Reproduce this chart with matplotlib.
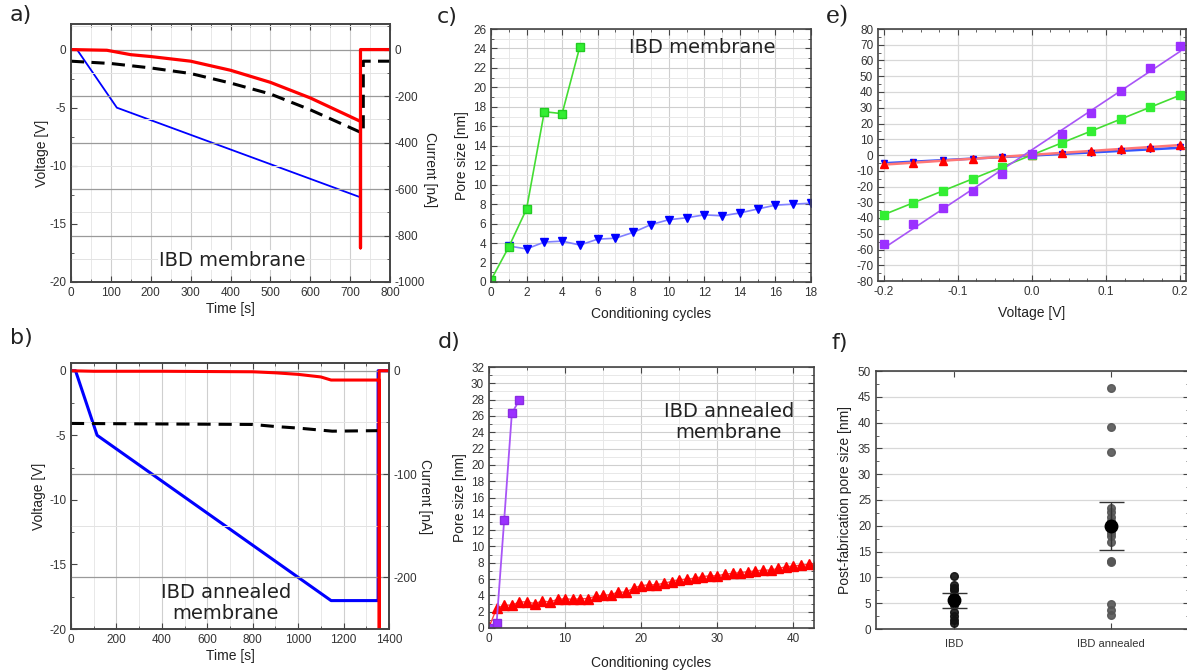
import numpy as np
import matplotlib
matplotlib.use("Agg")
import matplotlib.pyplot as plt
from matplotlib.ticker import MultipleLocator

plt.rcParams["font.family"] = ["Liberation Sans", "DejaVu Sans"]
plt.rcParams["axes.unicode_minus"] = False
plt.rcParams["axes.edgecolor"] = "#444444"
plt.rcParams["xtick.color"] = "#444444"
plt.rcParams["ytick.color"] = "#444444"
plt.rcParams["xtick.labelcolor"] = "#333333"
plt.rcParams["ytick.labelcolor"] = "#333333"

# ---- panel a: IBD membrane, time trace ----
a_t_volt = [0, 15, 115, 725]
a_volt = [0, 0, -5, -12.7]
a_t_curr = [0, 90, 150, 200, 300, 400, 500, 600, 726, 726, 726, 800]
a_curr = [0, -3, -22, -30, -50, -89, -141, -208, -309, -853, 0, 0]
a_t_dash = [0, 100, 200, 300, 400, 500, 600, 725, 733, 733, 800]
a_dash = [-50, -60, -79, -103, -144, -191, -259, -355, -355, -50, -50]

# ---- panel b: IBD annealed membrane, time trace ----
b_t_volt = [0, 20, 115, 1145, 1352, 1352, 1400]
b_volt = [0, 0, -5, -17.8, -17.8, 0, 0]
b_t_curr = [0, 100, 400, 800, 900, 1000, 1100, 1145, 1357, 1357, 1357, 1400]
b_curr = [0, -0.5, -0.5, -1, -2, -3.5, -6, -9, -9, -300, 0, 0]
b_t_dash = [0, 800, 900, 1000, 1150, 1350]
b_dash = [-51, -52, -54, -55.5, -58.5, -58]

# ---- panel c: pore size vs cycles (IBD) ----
c_green_x = [0, 1, 2, 3, 4, 5]
c_green_y = [0.2, 3.6, 7.5, 17.5, 17.3, 24.2]
c_blue_x = list(range(1, 19))
c_blue_y = [3.7, 3.4, 4.1, 4.2, 3.8, 4.4, 4.5, 5.1, 5.9, 6.4, 6.6, 6.9, 6.8,
            7.1, 7.5, 7.9, 8.0, 8.1]

# ---- panel d: pore size vs cycles (IBD annealed) ----
d_purple_x = [0, 1, 2, 3, 4]
d_purple_y = [0, 0.6, 13.3, 26.3, 28.0]
d_red_x = list(range(0, 44))
d_red_y = [0.1, 2.4, 2.8, 2.8, 3.2, 3.2, 3.0, 3.3, 3.2, 3.5, 3.6, 3.5, 3.6,
           3.6, 3.9, 4.0, 4.1, 4.4, 4.4, 4.9, 5.2, 5.3, 5.3, 5.5, 5.7, 5.9,
           6.0, 6.1, 6.3, 6.4, 6.4, 6.6, 6.7, 6.8, 6.9, 7.0, 7.1, 7.1, 7.3,
           7.5, 7.6, 7.7, 7.8, 7.9]

# ---- panel e: I-V curves ----
e_volt = [-0.2, -0.16, -0.12, -0.08, -0.04, 0, 0.04, 0.08, 0.12, 0.16, 0.2]
e_purple = [-56.8, -44, -33.4, -23, -12.1, 0.5, 13.2, 26.4, 40.9, 55.1, 69.4]
e_green = [-38.1, -30.2, -22.8, -15.1, -7.4, 0, 7.7, 15.1, 22.8, 30.4, 37.9]
e_blue = [-5.1, -4.2, -3.3, -2.3, -1.2, -0.6, 0.6, 1.5, 2.6, 3.6, 4.8]
e_red = [-5.9, -4.9, -3.7, -2.5, -1.3, 0, 1.5, 2.7, 3.9, 5.1, 6.2]

# ---- panel f: post-fabrication pore size ----
f_labels = ["IBD", "IBD annealed"]
f_ibd = [10.2, 8.6, 8.0, 7.5, 6.5, 6.0, 5.4, 5.0, 4.6, 3.3, 2.5, 1.8, 1.2]
f_ann = [46.7, 39.2, 34.3, 23.5, 22.7, 21.8, 20.9, 18.7, 18.0, 16.9, 13.1,
         13.0, 4.8, 3.7, 2.7]
f_mean = [5.6, 20.0]
f_err_low = [1.5, 4.6]
f_err_high = [1.4, 4.6]

W, H = 1187, 671
fig = plt.figure(figsize=(W / 100, H / 100), dpi=100)


def box(l, t, r, b):
    return [l / W, 1 - b / H, (r - l) / W, (b - t) / H]


def style(ax, right=True):
    ax.tick_params(which="both", direction="in", top=True, right=right,
                   labelsize=8.5)
    ax.tick_params(which="major", length=4)
    ax.tick_params(which="minor", length=2)
    for s in ax.spines.values():
        s.set_linewidth(1.2)


def grid(ax, axis="both", major="#cfcfcf", minor="#e8e8e8"):
    ax.set_axisbelow(True)
    ax.grid(True, which="major", axis=axis, color=major, lw=0.8)
    ax.grid(True, which="minor", axis=axis, color=minor, lw=0.7)


lab = dict(fontsize=10, color="#222222")
ann = dict(fontsize=14, color="#222222", family="DejaVu Sans")

# ================= a =================
ax = fig.add_axes(box(71, 24, 390, 282))
ax2 = ax.twinx()
ax.plot(a_t_volt, a_volt, color="#0000ff", lw=1.3, zorder=3)
ax2.plot(a_t_dash, a_dash, color="black", lw=2.2, dashes=(4.3, 2.4))
ax2.plot(a_t_curr, a_curr, color="#ff0000", lw=2.3)
ax.set_xlim(0, 800)
ax.set_ylim(-20, 2.2)
ax2.set_ylim(-1000, 110)
ax.xaxis.set_major_locator(MultipleLocator(100))
ax.xaxis.set_minor_locator(MultipleLocator(50))
ax.yaxis.set_major_locator(MultipleLocator(5))
ax.yaxis.set_minor_locator(MultipleLocator(2.5))
ax2.yaxis.set_major_locator(MultipleLocator(200))
ax2.yaxis.set_minor_locator(MultipleLocator(100))
style(ax, right=False)
style(ax2)
ax2.tick_params(which="both", left=False)
grid(ax, axis="x")
ax2.set_axisbelow(True)
ax2.grid(True, which="major", axis="y", color="#9a9a9a", lw=0.9)
ax2.grid(True, which="minor", axis="y", color="#e3e3e3", lw=0.7)
ax.set_xlabel("Time [s]", labelpad=2, **lab)
ax.set_ylabel("Voltage [V]", labelpad=0, **lab)
ax2.text(0.505, 0.085, "IBD membrane", transform=ax2.transAxes,
         ha="center", va="center", zorder=5,
         bbox=dict(fc="white", ec="none", pad=0.5), **ann)
fig.text(430 / W, 1 - 170 / H, "Current [nA]", rotation=270, ha="center",
         va="center", **lab)

# ================= b =================
ax = fig.add_axes(box(71, 363, 389, 629))
ax2 = ax.twinx()
ax.plot(b_t_volt, b_volt, color="#0000ff", lw=2.2, zorder=3)
ax2.plot(b_t_dash, b_dash, color="black", lw=2.2, dashes=(4.3, 2.6))
ax2.plot(b_t_curr, b_curr, color="#ff0000", lw=2.2)
ax.set_xlim(0, 1400)
ax.set_ylim(-20, 0.6)
ax2.set_ylim(-250, 7.5)
ax.xaxis.set_major_locator(MultipleLocator(200))
ax.xaxis.set_minor_locator(MultipleLocator(100))
ax.yaxis.set_major_locator(MultipleLocator(5))
ax.yaxis.set_minor_locator(MultipleLocator(2.5))
ax2.yaxis.set_major_locator(MultipleLocator(100))
ax2.yaxis.set_minor_locator(MultipleLocator(50))
style(ax, right=False)
style(ax2)
ax2.tick_params(which="both", left=False)
grid(ax, axis="x")
ax2.set_axisbelow(True)
ax2.grid(True, which="major", axis="y", color="#9a9a9a", lw=0.9)
ax2.grid(True, which="minor", axis="y", color="#e3e3e3", lw=0.7)
ax.set_xlabel("Time [s]", labelpad=2, **lab)
ax.set_ylabel("Voltage [V]", labelpad=2, **lab)
ax2.text(0.487, 0.098, "IBD annealed\nmembrane", transform=ax2.transAxes,
         ha="center", va="center", linespacing=1.1, zorder=5, **ann)
fig.text(425 / W, 1 - 497 / H, "Current [nA]", rotation=270, ha="center",
         va="center", **lab)

# ================= c =================
ax = fig.add_axes(box(491, 29, 811, 282))
ax.plot(c_blue_x, c_blue_y, color="#8080ff", lw=1.2, marker="v", ms=6,
        mfc="#0000ff", mec="#0000ff")
ax.plot(c_green_x, c_green_y, color="#44dd33", lw=1.2, marker="s", ms=5.5,
        mfc="#33ee33", mec="#22cc22")
ax.set_xlim(0, 18)
ax.set_ylim(0, 26)
ax.xaxis.set_major_locator(MultipleLocator(2))
ax.xaxis.set_minor_locator(MultipleLocator(1))
ax.yaxis.set_major_locator(MultipleLocator(2))
ax.yaxis.set_minor_locator(MultipleLocator(1))
style(ax)
grid(ax)
ax.set_xlabel("Conditioning cycles", labelpad=6, **lab)
ax.set_ylabel("Pore size [nm]", labelpad=3, **lab)
ax.text(11.9, 24.1, "IBD membrane", ha="center", va="center", **ann)

# ================= d =================
ax = fig.add_axes(box(489, 367, 814, 628))
ax.plot(d_red_x, d_red_y, color="#ff4444", lw=1.0, marker="^", ms=7,
        mfc="#ff0000", mec="#ff0000")
ax.plot(d_purple_x, d_purple_y, color="#a855f7", lw=1.3, marker="s", ms=5.5,
        mfc="#9b30ff", mec="#8a2be2")
ax.set_xlim(0, 42.7)
ax.set_ylim(0, 32)
ax.xaxis.set_major_locator(MultipleLocator(10))
ax.xaxis.set_minor_locator(MultipleLocator(5))
ax.yaxis.set_major_locator(MultipleLocator(2))
ax.yaxis.set_minor_locator(MultipleLocator(1))
style(ax)
grid(ax)
ax.set_xlabel("Conditioning cycles", labelpad=8, **lab)
ax.set_ylabel("Pore size [nm]", labelpad=3, **lab)
ax.text(0.738, 0.79, "IBD annealed\nmembrane", transform=ax.transAxes,
        ha="center", va="center", linespacing=1.1, **ann)

# ================= e =================
ax = fig.add_axes(box(878, 29, 1186, 281))
xv = np.array(e_volt)
series = [
    (e_blue, "#0000ff", "#3355ff", "v", 5),
    (e_red, "#ff0000", "#ff7777", "^", 6),
    (e_green, "#33ee33", "#44dd33", "s", 5.5),
    (e_purple, "#9b30ff", "#a855f7", "s", 6),
]
for ys, mc, lc, mk, ms in series:
    k, b0 = np.polyfit(xv, ys, 1)
    ax.plot(xv, k * xv + b0, color=lc, lw=1.8 if mk in "v^" else 1.2,
            zorder=2)
    ax.plot(xv, ys, ls="none", marker=mk, ms=ms, mfc=mc, mec=mc, zorder=3)
ax.set_xlim(-0.2077, 0.208)
ax.set_ylim(-80, 80)
ax.xaxis.set_major_locator(MultipleLocator(0.1))
ax.xaxis.set_minor_locator(MultipleLocator(0.025))
ax.yaxis.set_major_locator(MultipleLocator(10))
ax.yaxis.set_minor_locator(MultipleLocator(5))
style(ax)
ax.set_axisbelow(True)
ax.grid(True, which="major", color="#d8d8d8", lw=0.9)
ax.set_xlabel("Voltage [V]", labelpad=6, **lab)

# ================= f =================
ax = fig.add_axes(box(876, 371, 1189, 629))
ax.plot(np.full(len(f_ibd), 1), f_ibd, ls="none", marker="o", ms=5.5,
        color="#111111", alpha=0.9)
ax.plot(np.full(len(f_ann), 2), f_ann, ls="none", marker="o", ms=5.5,
        color="#555555", alpha=0.9)
ax.errorbar([1, 2], f_mean, yerr=[f_err_low, f_err_high], fmt="o", ms=9,
            color="black", ecolor="#333333", elinewidth=1.0, capsize=9,
            capthick=1.0)
ax.set_xlim(0.5, 2.5)
ax.set_ylim(0, 50)
ax.set_xticks([1, 2])
ax.set_xticklabels(f_labels)
ax.yaxis.set_major_locator(MultipleLocator(5))
ax.yaxis.set_minor_locator(MultipleLocator(2.5))
style(ax)
ax.tick_params(axis="x", which="both", labelsize=8, pad=7)
ax.set_axisbelow(True)
ax.grid(True, which="major", axis="y", color="#d8d8d8", lw=0.9)
ax.set_ylabel("Post-fabrication pore size [nm]", labelpad=4, **lab)

# panel letters
letters = [("a)", 10, 15), ("b)", 10, 338), ("c)", 437, 17), ("d)", 438, 342),
           ("f)", 832, 343)]
for s, px, py in letters:
    fig.text(px / W, 1 - py / H, s, fontsize=16, va="center", ha="left",
             family="DejaVu Sans", color="#222222")
fig.text(826 / W, 1 - 17 / H, "e)", fontsize=17, va="center", ha="left",
         family="DejaVu Serif", color="#222222")

fig.savefig("out.png", dpi=100)
